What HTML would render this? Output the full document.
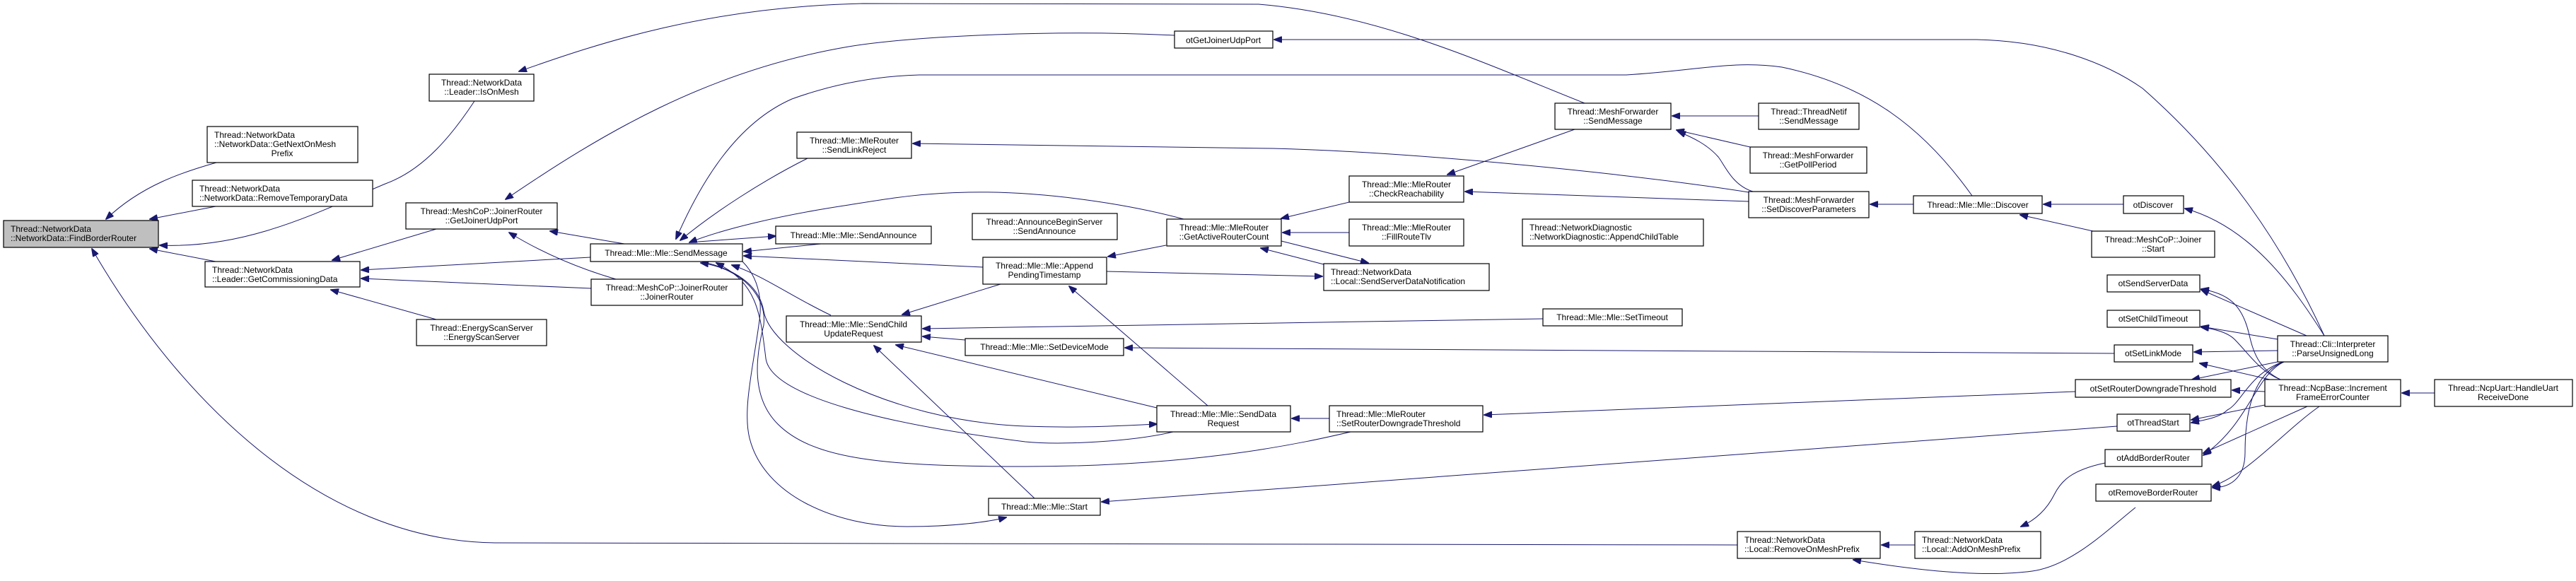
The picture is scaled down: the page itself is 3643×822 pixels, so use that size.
<!DOCTYPE html>
<html><head><meta charset="utf-8"><style>
html,body{margin:0;padding:0;background:#fff;}
svg{display:block;}
text{font-family:"Liberation Sans",Arial,sans-serif;font-size:12px;fill:#000;}
.e{fill:none;stroke:#191970;stroke-width:1;}
.n{fill:#fff;stroke:#000;stroke-width:1.2;}
</style></head><body>
<svg width="3643" height="822" viewBox="0 0 3643 822" xmlns="http://www.w3.org/2000/svg">
<defs><marker id="a" markerUnits="userSpaceOnUse" markerWidth="12" markerHeight="9" refX="11" refY="4.5" orient="auto"><path d="M0,0 L12,4.5 L0,9 z" fill="#191970" stroke="#191970"/></marker></defs>
<g marker-end="url(#a)">
<path class="e" d="M306,230 C 260,243 200,262 150,310"/>
<path class="e" d="M305,292 L 212,310"/>
<path class="e" d="M671,143 C 640,190 600,240 545,260 C 450,300 350,352 226,347"/>
<path class="e" d="M305,370 L 212,352"/>
<path class="e" d="M2457,771 L 700,768 C 450,765 250,560 130,352"/>
<path class="e" d="M617,324 L 470,368"/>
<path class="e" d="M835,364 L 511,382"/>
<path class="e" d="M836,408 L 511,394"/>
<path class="e" d="M617,452 L 468,410"/>
<path class="e" d="M883,345 L 778,327"/>
<path class="e" d="M871,395 C 820,380 770,360 720,329"/>
<path class="e" d="M1661,50 C 1500,42 1300,50 1200,66 C 1000,100 850,190 715,282"/>
<path class="e" d="M3287,475 C 3230,350 3150,230 3030,125 C 2980,90 2900,58 2795,56 L 1802,56"/>
<path class="e" d="M2241,146 C 2100,90 1950,20 1780,6 L 1220,5 C 1000,10 850,60 734,101"/>
<path class="e" d="M2789,277 C 2720,180 2640,120 2520,95 C 2450,85 2400,100 2300,106 L 1300,106 C 1230,108 1170,122 1120,140 C 1040,175 990,260 956,338"/>
<path class="e" d="M1142,224 C 1080,255 1010,300 962,340"/>
<path class="e" d="M1674,310 C 1600,290 1480,270 1370,272 C 1300,273 1250,282 1200,290 C 1100,305 1020,325 975,343"/>
<path class="e" d="M987,342 L 1097,334"/>
<path class="e" d="M1161,345 L 1052,356"/>
<path class="e" d="M1390,378 L 1052,362"/>
<path class="e" d="M1175,446 C 1120,420 1080,390 1035,375"/>
<path class="e" d="M1000,372 C 1050,385 1075,410 1080,440 C 1090,500 1250,595 1450,603 C 1530,606 1590,602 1636,600"/>
<path class="e" d="M1659,611 C 1600,625 1500,630 1450,625 C 1250,600 1090,560 1083,507 C 1075,440 1070,400 1013,372"/>
<path class="e" d="M1910,611 C 1850,625 1700,660 1450,660 C 1250,660 1150,650 1100,600 C 1060,560 1070,500 1080,460 C 1085,420 1050,380 991,372"/>
<path class="e" d="M1050,370 C 1070,390 1080,420 1073,460 C 1065,520 1050,580 1060,620 C 1080,700 1180,745 1283,745 C 1350,745 1400,738 1423,732"/>
<path class="e" d="M1463,705 L 1236,489"/>
<path class="e" d="M1415,402 L 1276,445"/>
<path class="e" d="M2182,451 L 1305,465"/>
<path class="e" d="M1365,481 L 1305,476"/>
<path class="e" d="M1636,577 L 1267,488"/>
<path class="e" d="M1708,574 L 1512,405"/>
<path class="e" d="M1649,347 L 1567,363"/>
<path class="e" d="M1565,384 L 1870,391"/>
<path class="e" d="M2990,500 L 1591,492"/>
<path class="e" d="M1880,592 L 1827,592"/>
<path class="e" d="M2935,554 L 2099,587"/>
<path class="e" d="M2994,603 L 1558,710"/>
<path class="e" d="M1872,374 L 1783,351"/>
<path class="e" d="M1812,341 L 1935,372"/>
<path class="e" d="M1908,286 L 1812,309"/>
<path class="e" d="M1908,329 L 1814,329"/>
<path class="e" d="M2227,183 L 2047,247"/>
<path class="e" d="M2473,285 L 2072,271"/>
<path class="e" d="M2473,272 C 2300,245 2000,215 1800,210 L 1291,203"/>
<path class="e" d="M2487,164 L 2365,164"/>
<path class="e" d="M2475,208 L 2371,184"/>
<path class="e" d="M2479,271 C 2450,262 2440,235 2430,222 C 2415,205 2395,195 2373,186"/>
<path class="e" d="M2706,289 L 2645,289"/>
<path class="e" d="M3003,289 L 2890,289"/>
<path class="e" d="M2960,327 L 2857,304"/>
<path class="e" d="M3287,475 C 3240,400 3180,320 3090,295"/>
<path class="e" d="M3262,475 L 3113,410"/>
<path class="e" d="M3225,537 C 3190,520 3185,490 3180,470 C 3170,430 3150,415 3113,409"/>
<path class="e" d="M3221,480 L 3113,462"/>
<path class="e" d="M3225,537 C 3195,525 3180,500 3160,480 C 3150,470 3130,465 3113,463"/>
<path class="e" d="M3221,496 L 3103,498"/>
<path class="e" d="M3210,537 L 3111,514"/>
<path class="e" d="M3221,512 L 3100,537"/>
<path class="e" d="M3203,554 L 3157,552"/>
<path class="e" d="M3228,512 C 3180,530 3170,570 3150,580 C 3140,590 3120,594 3099,598"/>
<path class="e" d="M3203,573 L 3099,594"/>
<path class="e" d="M3230,512 C 3190,530 3180,600 3116,644"/>
<path class="e" d="M3263,575 L 3116,641"/>
<path class="e" d="M3230,512 C 3180,530 3175,600 3175,640 C 3175,680 3150,690 3129,690"/>
<path class="e" d="M3280,575 C 3230,610 3180,670 3129,688"/>
<path class="e" d="M3443,556 L 3397,556"/>
<path class="e" d="M2977,655 C 2930,665 2915,680 2905,700 C 2895,720 2880,735 2858,745"/>
<path class="e" d="M2708,771 L 2661,771"/>
<path class="e" d="M3020,718 C 2980,750 2930,800 2874,808 C 2800,818 2700,805 2621,792"/>
</g>

<rect x="5" y="312" width="219" height="38" fill="#bfbfbf" stroke="#000" stroke-width="1.2"/>
<text x="15" y="328">Thread::NetworkData</text><text x="15" y="341">::NetworkData::FindBorderRouter</text>

<rect class="n" x="293" y="179" width="213" height="51"/>
<text x="303" y="195">Thread::NetworkData</text><text x="303" y="208">::NetworkData::GetNextOnMesh</text><text x="399" y="221" text-anchor="middle">Prefix</text>

<rect class="n" x="272" y="255" width="255" height="37"/>
<text x="282" y="271">Thread::NetworkData</text><text x="282" y="284">::NetworkData::RemoveTemporaryData</text>

<rect class="n" x="290" y="370" width="219" height="36"/>
<text x="300" y="386">Thread::NetworkData</text><text x="300" y="399">::Leader::GetCommissioningData</text>

<g text-anchor="middle">
<rect class="n" x="607" y="105" width="148" height="38"/>
<text x="681" y="121">Thread::NetworkData</text><text x="681" y="134">::Leader::IsOnMesh</text>

<rect class="n" x="574" y="287" width="214" height="37"/>
<text x="681" y="303">Thread::MeshCoP::JoinerRouter</text><text x="681" y="316">::GetJoinerUdpPort</text>

<rect class="n" x="589" y="452" width="184" height="37"/>
<text x="681" y="468">Thread::EnergyScanServer</text><text x="681" y="481">::EnergyScanServer</text>

<rect class="n" x="835" y="345" width="215" height="25"/>
<text x="942" y="362">Thread::Mle::Mle::SendMessage</text>

<rect class="n" x="836" y="395" width="214" height="37"/>
<text x="943" y="411">Thread::MeshCoP::JoinerRouter</text><text x="943" y="424">::JoinerRouter</text>

<rect class="n" x="1127" y="187" width="162" height="37"/>
<text x="1208" y="203">Thread::Mle::MleRouter</text><text x="1208" y="216">::SendLinkReject</text>

<rect class="n" x="1097" y="320" width="220" height="25"/>
<text x="1207" y="337">Thread::Mle::Mle::SendAnnounce</text>

<rect class="n" x="1112" y="447" width="191" height="37"/>
<text x="1207" y="463">Thread::Mle::Mle::SendChild</text><text x="1207" y="476">UpdateRequest</text>

<rect class="n" x="1661" y="44" width="139" height="24"/>
<text x="1730" y="61">otGetJoinerUdpPort</text>

<rect class="n" x="1375" y="302" width="205" height="37"/>
<text x="1477" y="318">Thread::AnnounceBeginServer</text><text x="1477" y="331">::SendAnnounce</text>

<rect class="n" x="1650" y="310" width="162" height="38"/>
<text x="1731" y="326">Thread::Mle::MleRouter</text><text x="1731" y="339">::GetActiveRouterCount</text>

<rect class="n" x="1390" y="364" width="175" height="38"/>
<text x="1477" y="380">Thread::Mle::Mle::Append</text><text x="1477" y="393">PendingTimestamp</text>

<rect class="n" x="1365" y="479" width="224" height="24"/>
<text x="1477" y="495">Thread::Mle::Mle::SetDeviceMode</text>

<rect class="n" x="1636" y="574" width="189" height="37"/>
<text x="1730" y="590">Thread::Mle::Mle::SendData</text><text x="1730" y="603">Request</text>

<rect class="n" x="1398" y="705" width="158" height="24"/>
<text x="1477" y="721">Thread::Mle::Mle::Start</text>

<rect class="n" x="2199" y="146" width="164" height="37"/>
<text x="2281" y="162">Thread::MeshForwarder</text><text x="2281" y="175">::SendMessage</text>

<rect class="n" x="1908" y="249" width="162" height="37"/>
<text x="1989" y="265">Thread::Mle::MleRouter</text><text x="1989" y="278">::CheckReachability</text>

<rect class="n" x="1908" y="310" width="162" height="38"/>
<text x="1989" y="326">Thread::Mle::MleRouter</text><text x="1989" y="339">::FillRouteTlv</text>

<rect class="n" x="2182" y="437" width="197" height="24"/>
<text x="2280" y="453">Thread::Mle::Mle::SetTimeout</text>

<rect class="n" x="2487" y="146" width="142" height="37"/>
<text x="2558" y="162">Thread::ThreadNetif</text><text x="2558" y="175">::SendMessage</text>

<rect class="n" x="2475" y="208" width="165" height="37"/>
<text x="2557" y="224">Thread::MeshForwarder</text><text x="2557" y="237">::GetPollPeriod</text>

<rect class="n" x="2473" y="271" width="170" height="37"/>
<text x="2558" y="287">Thread::MeshForwarder</text><text x="2558" y="300">::SetDiscoverParameters</text>

<rect class="n" x="2706" y="277" width="182" height="25"/>
<text x="2797" y="294">Thread::Mle::Mle::Discover</text>

<rect class="n" x="3003" y="277" width="85" height="25"/>
<text x="3045" y="294">otDiscover</text>

<rect class="n" x="2958" y="327" width="174" height="37"/>
<text x="3045" y="343">Thread::MeshCoP::Joiner</text><text x="3045" y="356">::Start</text>

<rect class="n" x="2980" y="389" width="131" height="24"/>
<text x="3045" y="405">otSendServerData</text>
<rect class="n" x="2980" y="439" width="131" height="24"/>
<text x="3045" y="455">otSetChildTimeout</text>
<rect class="n" x="2990" y="488" width="111" height="24"/>
<text x="3045" y="504">otSetLinkMode</text>
<rect class="n" x="2935" y="537" width="220" height="25"/>
<text x="3045" y="554">otSetRouterDowngradeThreshold</text>
<rect class="n" x="2994" y="586" width="103" height="24"/>
<text x="3045" y="602">otThreadStart</text>
<rect class="n" x="2977" y="636" width="137" height="24"/>
<text x="3045" y="652">otAddBorderRouter</text>
<rect class="n" x="2964" y="685" width="163" height="24"/>
<text x="3045" y="701">otRemoveBorderRouter</text>

<rect class="n" x="3221" y="475" width="156" height="37"/>
<text x="3299" y="491">Thread::Cli::Interpreter</text><text x="3299" y="504">::ParseUnsignedLong</text>

<rect class="n" x="3203" y="537" width="192" height="38"/>
<text x="3299" y="553">Thread::NcpBase::Increment</text><text x="3299" y="566">FrameErrorCounter</text>

<rect class="n" x="3443" y="537" width="195" height="38"/>
<text x="3540" y="553">Thread::NcpUart::HandleUart</text><text x="3540" y="566">ReceiveDone</text>
</g>

<rect class="n" x="2153" y="310" width="256" height="38"/>
<text x="2163" y="326">Thread::NetworkDiagnostic</text><text x="2163" y="339">::NetworkDiagnostic::AppendChildTable</text>

<rect class="n" x="1872" y="373" width="234" height="38"/>
<text x="1882" y="389">Thread::NetworkData</text><text x="1882" y="402">::Local::SendServerDataNotification</text>

<rect class="n" x="1880" y="574" width="217" height="37"/>
<text x="1890" y="590">Thread::Mle::MleRouter</text><text x="1890" y="603">::SetRouterDowngradeThreshold</text>

<rect class="n" x="2457" y="752" width="202" height="38"/>
<text x="2467" y="768">Thread::NetworkData</text><text x="2467" y="781">::Local::RemoveOnMeshPrefix</text>

<rect class="n" x="2708" y="752" width="178" height="38"/>
<text x="2718" y="768">Thread::NetworkData</text><text x="2718" y="781">::Local::AddOnMeshPrefix</text>
</svg>
</body></html>
